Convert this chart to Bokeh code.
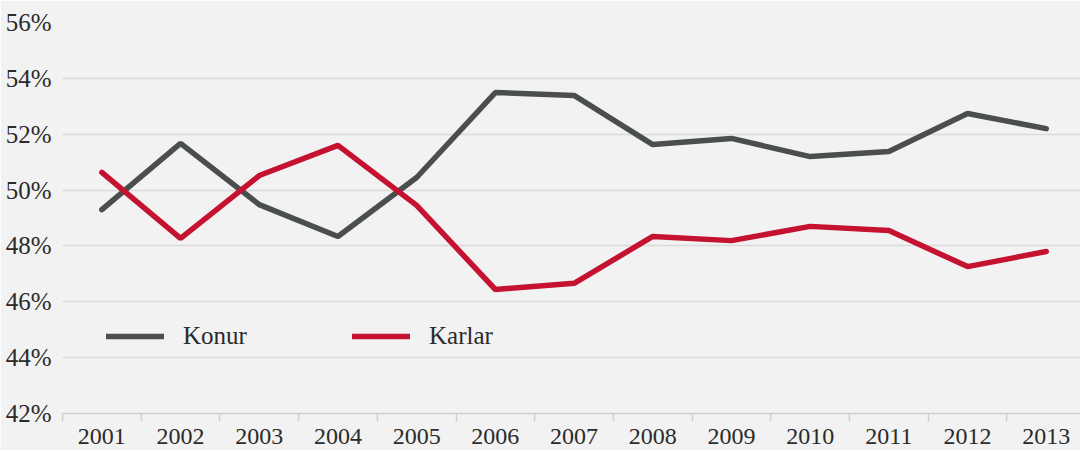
from bokeh.plotting import figure
from bokeh.models import Range1d, FixedTicker, Legend, LegendItem
from bokeh.embed import file_html
from bokeh.resources import INLINE

years = ["2001", "2002", "2003", "2004", "2005", "2006", "2007",
         "2008", "2009", "2010", "2011", "2012", "2013"]
konur = [49.30, 51.67, 49.48, 48.34, 50.45, 53.49, 53.39,
         51.63, 51.85, 51.20, 51.38, 52.74, 52.20]
karlar = [50.63, 48.27, 50.52, 51.60, 49.45, 46.44, 46.66,
          48.34, 48.19, 48.70, 48.55, 47.26, 47.80]
y_ticks = [42, 44, 46, 48, 50, 52, 54, 56]
y_labels = ["42%", "44%", "46%", "48%", "50%", "52%", "54%", "56%"]

FONT = "Liberation Serif"
TEXT = "#2b2b2b"
BG = "#f2f2f2"
GRID = "#d9d9d9"

x = [int(y) for y in years]
boundaries = [x[0] - 0.5 + i for i in range(len(x) + 1)]

p = figure(width=1080, height=450, output_backend="svg", toolbar_location=None,
           x_range=Range1d(x[0] - 0.5, x[-1] + 0.435), y_range=Range1d(y_ticks[0], y_ticks[-1]),
           min_border_left=62, min_border_right=0, min_border_top=22, min_border_bottom=37,
           background_fill_color=BG, border_fill_color=BG, outline_line_color=None)

# y axis
p.yaxis.ticker = FixedTicker(ticks=y_ticks)
p.yaxis.major_label_overrides = {t: l for t, l in zip(y_ticks, y_labels)}
p.yaxis.axis_line_color = None
p.yaxis.major_tick_line_color = None
p.yaxis.minor_tick_line_color = None
p.yaxis.major_label_standoff = 5
p.yaxis.major_label_text_font = FONT
p.yaxis.major_label_text_font_size = "25px"
p.yaxis.major_label_text_color = TEXT

p.ygrid.ticker = FixedTicker(ticks=y_ticks[1:])
p.ygrid.grid_line_color = GRID
p.ygrid.grid_line_width = 1.5
p.xgrid.visible = False

# x axis
p.xaxis.ticker = FixedTicker(ticks=x, minor_ticks=boundaries)
p.xaxis.major_label_overrides = {xi: y for xi, y in zip(x, years)}
p.xaxis.major_tick_line_color = None
p.xaxis.major_tick_out = 0
p.xaxis.major_tick_in = 0
p.xaxis.minor_tick_line_color = "#d0d0d0"
p.xaxis.minor_tick_line_width = 1.5
p.xaxis.minor_tick_out = 8
p.xaxis.minor_tick_in = 0
p.xaxis.axis_line_color = "#d0d0d0"
p.xaxis.axis_line_width = 1.5
p.xaxis.major_label_standoff = 7
p.xaxis.major_label_text_font = FONT
p.xaxis.major_label_text_font_size = "24px"
p.xaxis.major_label_text_color = TEXT

r1 = p.line(x, konur, line_width=5.5, line_color="#4b4e4e", line_cap="round")
r2 = p.line(x, karlar, line_width=5.5, line_color="#c41230", line_cap="round")

def make_legend(label, r, loc):
    lg = Legend(items=[LegendItem(label=label, renderers=[r])], location=loc,
                orientation="horizontal", glyph_width=58, glyph_height=20,
                label_standoff=19, padding=0, margin=0, spacing=0,
                background_fill_alpha=0, border_line_alpha=0,
                label_text_font=FONT, label_text_font_size="25px",
                label_text_color=TEXT, label_height=20)
    p.add_layout(lg, "center")

make_legend("Konur", r1, (44, 63))
make_legend("Karlar", r2, (290, 63))

open("out.html", "w").write(file_html(p, INLINE))
